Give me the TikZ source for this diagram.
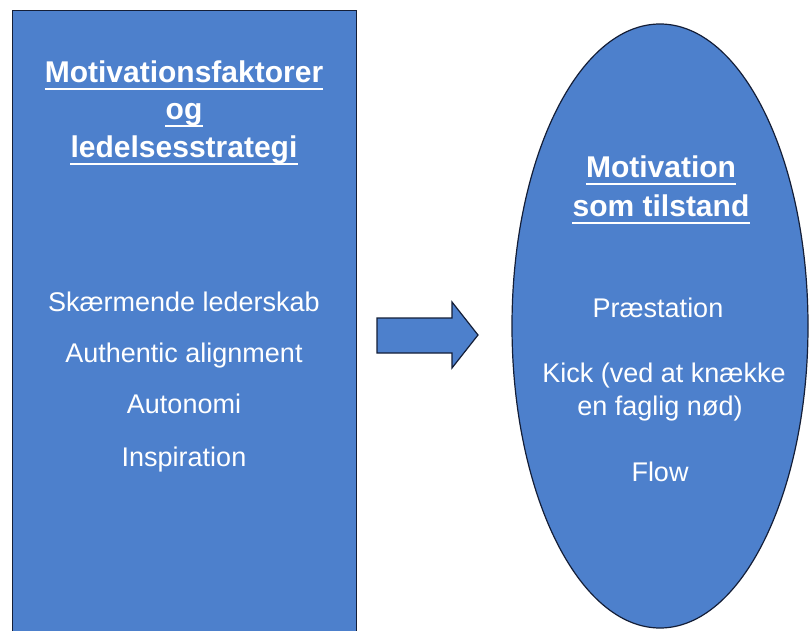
\documentclass[tikz,border=0pt]{standalone}
\usepackage{fontspec}
\setmainfont{Liberation Sans}
\usetikzlibrary{shapes.geometric}
\definecolor{boxblue}{RGB}{77,128,204}
\definecolor{edgedark}{RGB}{20,30,55}
\tikzset{
  panel/.style={fill=boxblue, draw=edgedark, line width=1.2pt},
  headtxt/.style={text=white, font=\fontsize{30}{36}\selectfont\bfseries, anchor=base, inner sep=0pt},
  bodytxt/.style={text=white, font=\fontsize{27}{33}\selectfont, anchor=base, inner sep=0pt},
  underln/.style={draw=white, line width=2.4pt},
}
\newcommand{\ulnode}[1]{\draw[underln] ([yshift=-6pt]#1.base west) -- ([yshift=-6pt]#1.base east);}
\begin{document}
\begin{tikzpicture}[x=1pt,y=-1pt]
\useasboundingbox (0,0) rectangle (809,631);
\clip (0,0) rectangle (809,631);

% left panel: factors and strategy
\node[panel, rectangle, minimum width=344pt, minimum height=640pt, anchor=north west, inner sep=0pt] (factors) at (12,10) {};
% right panel: motivation as a state
\node[panel, ellipse, minimum width=296pt, minimum height=604pt, inner sep=0pt] (state) at (660,326) {};

% block arrow between the panels
\draw[panel] (377,318) -- (452,318) -- (452,302) -- (478,335) -- (452,368) -- (452,353) -- (377,353) -- cycle;

% left panel texts
\node[headtxt] (h1) at (184,83) {Motivationsfaktorer};
\node[headtxt] (h2) at (184,120) {og};
\node[headtxt] (h3) at (184,158) {ledelsesstrategi};
\ulnode{h1}\ulnode{h2}\ulnode{h3}
\node[bodytxt] (f1) at (184,312) {Skærmende lederskab};
\node[bodytxt] (f2) at (184,362) {Authentic alignment};
\node[bodytxt] (f3) at (184,413) {Autonomi};
\node[bodytxt] (f4) at (184,466) {Inspiration};

% right panel texts
\node[headtxt] (s1) at (661,178) {Motivation};
\node[headtxt] (s2) at (661,217) {som tilstand};
\ulnode{s1}\ulnode{s2}
\node[bodytxt] (p1) at (658,317) {Præstation};
\node[bodytxt] (p2) at (664,382) {Kick (ved at knække};
\node[bodytxt] (p3) at (660,415) {en faglig nød)};
\node[bodytxt] (p4) at (660,481) {Flow};
\end{tikzpicture}
\end{document}
